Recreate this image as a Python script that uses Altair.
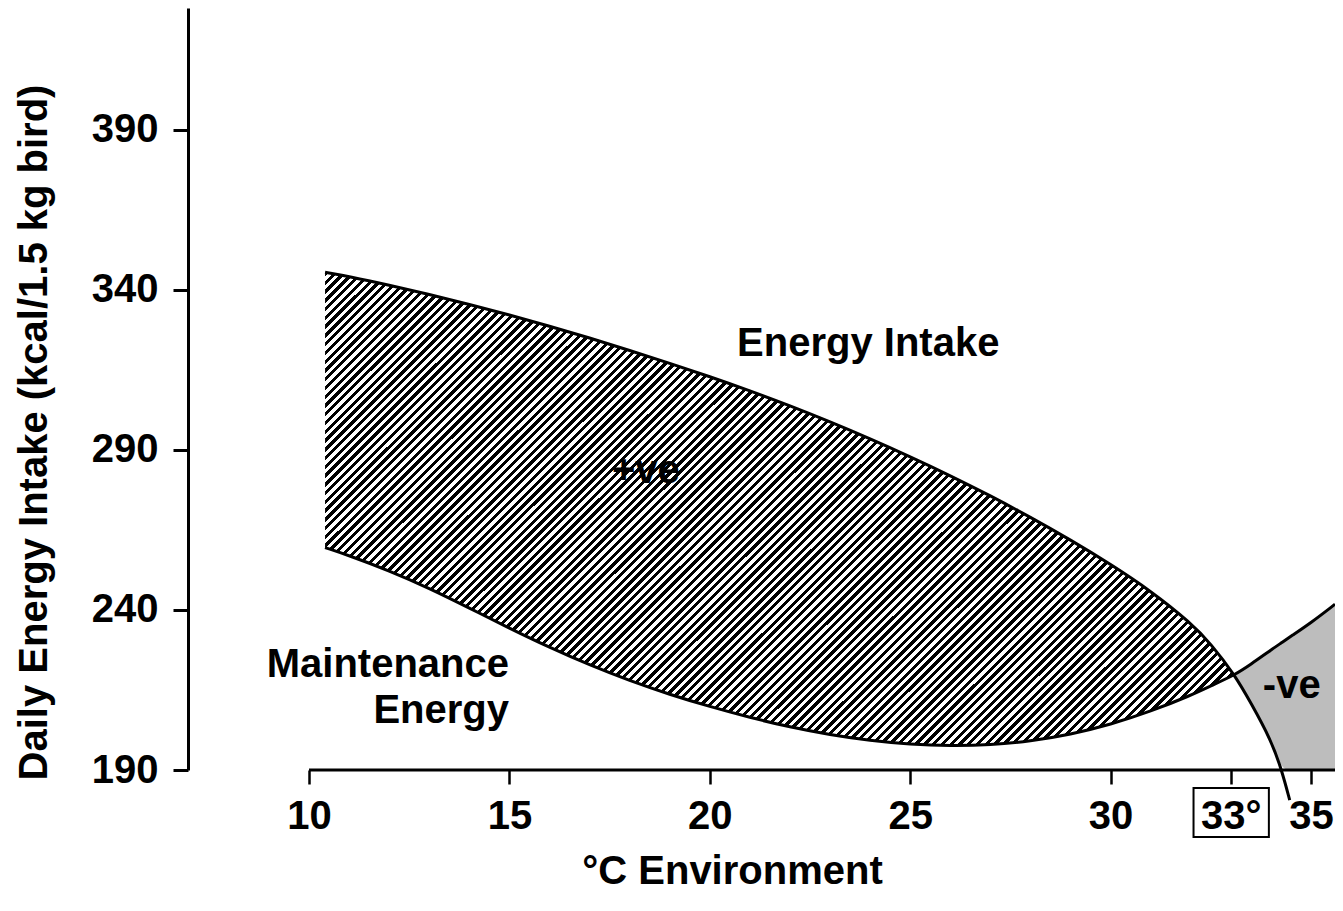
import math
import altair as alt
import pandas as pd

FONT = "Liberation Sans"
FS = 40

# ---- data ----
# temperatures (°C) at which both curves were read
temp = [10.4, 11, 12, 13, 14, 15, 16, 17, 18, 19, 20, 21, 22, 23, 24, 25, 26, 27, 28, 29, 30, 31, 32, 32.5, 33.1]
# Energy intake curve (upper boundary of +ve region)
intake = [345.5, 344.2, 341.5, 338.6, 335.5, 332.2, 328.7, 325, 321.1, 317.1, 312.9, 308.5, 303.8, 298.8, 293.5,
          287.9, 282, 275.7, 269, 261.9, 254.3, 246, 236, 229.5, 219.7]
# Maintenance energy curve (lower boundary of +ve region)
maint = [259.5, 257, 252.3, 246.8, 240.6, 234.3, 228.3, 222.8, 217.9, 213.6, 209.8, 206.4, 203.4, 201, 199.2,
         198, 197.5, 197.8, 199, 201.1, 204.2, 208.3, 213.3, 216.3, 219.7]
# Energy intake beyond the crossing (falls below the axis)
intake_tail_t = [33.5, 34.0, 34.27, 34.47]
intake_tail_v = [211, 199.5, 190, 180.6]
# -ve region: maintenance above, intake (or axis) below
neg_t = [33.1, 33.5, 34.0, 34.27, 34.5, 35.0, 35.6]
neg_top = [219.7, 223, 227.5, 229.8, 231.8, 236, 241.8]
neg_bottom = [219.7, 211, 199.5, 190, 190, 190, 190]

x_ticks = [10, 15, 20, 25, 30, 33, 35]
y_ticks = [190, 240, 290, 340, 390]

# ---- layout ----
W_PLOT, H_PLOT = 1147, 762
X_DOM = [6.98, 35.6]
Y_DOM = [190, 428.1]
xs = alt.Scale(domain=X_DOM, nice=False, zero=False)
ys = alt.Scale(domain=Y_DOM, nice=False, zero=False)

# ---- hatch as a striped gradient (45 degree "/" lines) ----
ppx = W_PLOT / (X_DOM[1] - X_DOM[0])
ppy = H_PLOT / (Y_DOM[1] - Y_DOM[0])
bw = (max(temp) - min(temp)) * ppx
bh = (max(intake) - min(maint)) * ppy
c = (bw + bh) / (bw * bw + bh * bh)
L = (bw + bh) / math.sqrt(2)
period = 6.2
n = L / period
black_frac = 0.5
stops = []
k = 0
while k / n <= 1:
    t0 = k / n
    t1 = min((k + black_frac) / n, 1)
    t2 = min((k + 1) / n, 1)
    stops += [alt.GradientStop(offset=t0, color="black"), alt.GradientStop(offset=t1, color="black"),
              alt.GradientStop(offset=t1, color="white"), alt.GradientStop(offset=t2, color="white")]
    k += 1
hatch = alt.LinearGradient(gradient="linear", stops=stops, x1=0, y1=0, x2=c * bw, y2=c * bh)

pos_df = pd.DataFrame({"x": temp, "y": intake, "lo": maint})
neg_df = pd.DataFrame({"x": neg_t, "y": neg_top, "lo": neg_bottom})
intake_df = pd.DataFrame({"x": temp + intake_tail_t, "y": intake + intake_tail_v})
maint_df = pd.DataFrame({"x": temp + neg_t[1:], "y": maint + neg_top[1:]})

x_axis = alt.Axis(values=x_ticks, domain=False, grid=False, tickSize=14, tickWidth=2.5, tickColor="black",
                  labelFont=FONT, labelFontSize=FS, labelFontWeight="bold", labelColor="black",
                  labelBaseline="alphabetic", labelPadding=44, labelFlush=False, labelOverlap=False,
                  labelExpr="datum.value == 33 ? '33°' : datum.label",
                  titleFont=FONT, titleFontSize=FS, titleFontWeight="bold",
                  titleColor="black", titleX=544, titleY=113, titleBaseline="alphabetic")
y_axis = alt.Axis(values=y_ticks, domain=True, domainWidth=3, domainColor="black", grid=False,
                  tickSize=15, tickWidth=3, tickColor="black",
                  labelFont=FONT, labelFontSize=FS, labelFontWeight="bold", labelColor="black",
                  labelPadding=15, labelFlush=False, labelOverlap=False,
                  titleFont=FONT, titleFontSize=FS,
                  titleFontWeight="bold", titleColor="black", titleX=-142, titleY=424,
                  titleBaseline="alphabetic", titleAngle=270)

X_TITLE = "°C Environment"
Y_TITLE = "Daily Energy Intake (kcal/1.5 kg bird)"


def xenc():
    return alt.X("x:Q", scale=xs, axis=x_axis, title=X_TITLE)


def yenc():
    return alt.Y("y:Q", scale=ys, axis=y_axis, title=Y_TITLE)


pos_area = alt.Chart(pos_df).mark_area(interpolate="basis", color=hatch).encode(
    x=xenc(), y=yenc(), y2="lo:Q")
neg_area = alt.Chart(neg_df).mark_area(interpolate="basis", color="#bdbdbd").encode(
    x=xenc(), y=yenc(), y2="lo:Q")
intake_line = alt.Chart(intake_df).mark_line(interpolate="basis", color="black", strokeWidth=3).encode(
    x=xenc(), y=yenc())
maint_line = alt.Chart(maint_df).mark_line(interpolate="basis", color="black", strokeWidth=3).encode(
    x=xenc(), y=yenc())

axis_df = pd.DataFrame({"x": [10], "x2": [X_DOM[1]], "y": [190]})
x_rule = alt.Chart(axis_df).mark_rule(color="black", strokeWidth=3).encode(
    x=xenc(), x2="x2:Q", y=yenc())

box_df = pd.DataFrame({"x": [32.07], "x2": [33.95], "y": [184.4], "y2": [169.1]})
box = alt.Chart(box_df).mark_rect(fill=None, stroke="black", strokeWidth=2).encode(
    x=xenc(), x2="x2:Q", y=yenc(), y2="y2:Q")

labels_df = pd.DataFrame({
    "x": [20.68, 14.99, 14.99, 17.56, 33.80],
    "y": [319.4, 219.1, 204.7, 279.7, 212.5],
    "text": ["Energy Intake", "Maintenance", "Energy", "+ve", "-ve"],
    "align": ["left", "right", "right", "left", "left"],
})
texts = []
for al in ["left", "right"]:
    texts.append(alt.Chart(labels_df[labels_df["align"] == al]).mark_text(
        align=al, baseline="alphabetic", font=FONT, fontSize=FS, fontWeight="bold", color="black").encode(
        x=xenc(), y=yenc(), text="text:N"))

chart = alt.layer(pos_area, neg_area, intake_line, maint_line, x_rule, box, *texts).properties(
    width=W_PLOT, height=H_PLOT,
    autosize=alt.AutoSizeParams(type="none"),
    padding={"left": 180, "top": 0, "right": 0, "bottom": 130},
    background="white",
).configure_view(stroke=None)

chart.save("out.html", embed_options={"renderer": "svg", "actions": False})
